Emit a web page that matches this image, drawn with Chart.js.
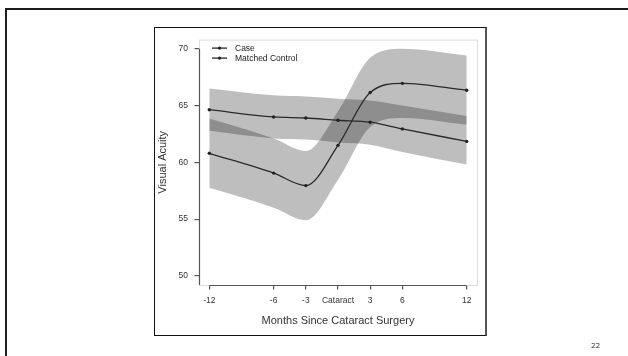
<!DOCTYPE html>
<html><head><meta charset="utf-8">
<script src="https://cdn.jsdelivr.net/npm/chart.js@4.4.1/dist/chart.umd.min.js"></script>
<style>
html,body{margin:0;padding:0;background:#fff;width:628px;height:356px;overflow:hidden;position:relative;font-family:'Liberation Sans',Arial,sans-serif}
#slide{position:absolute;left:5px;top:8px;width:700px;height:400px;border-top:2px solid #1e1e1e;border-left:2px solid #1e1e1e;}
#box{position:absolute;left:154px;top:27px;width:330px;height:307px;border:1px solid #111;border-right:2px solid #555;}
#c{position:absolute;left:155px;top:28px;}
#pg{position:absolute;left:591px;top:340px;font:8px 'Open Sans',sans-serif;color:#333;line-height:10px}
</style></head>
<body>
<div id="slide"></div><div id="box"></div>
<canvas id="c" width="330" height="307"></canvas>
<div id="pg">22</div>
<script>
const months = [-12, -6, -3, 0, 3, 6, 12];
const xTickLabels = ['-12', '-6', '-3', 'Cataract', '3', '6', '12'];
const yTicks = [50, 55, 60, 65, 70];
const caseVA = [60.79, 59.05, 57.95, 61.49, 66.14, 66.95, 66.34];
const controlVA = [64.63, 63.99, 63.90, 63.70, 63.53, 62.94, 61.84];
const caseUpper = [63.85, 62.1, 61.0, 64.5, 69.2, 70.0, 69.4];
const caseLower = [57.75, 56.0, 54.9, 58.45, 63.1, 63.9, 63.3];
const ctrlUpper = [66.5, 65.9, 65.8, 65.6, 65.45, 65.0, 64.08];
const ctrlLower = [62.77, 62.1, 62.0, 61.75, 61.55, 60.9, 59.8];
const seriesNames = ['Case', 'Matched Control'];

const pts = arr => months.map((m, i) => ({x: m, y: arr[i]}));
const FONT = "'Liberation Sans', Arial, sans-serif";
Chart.defaults.font.family = FONT;
Chart.defaults.color = '#333';

const lineStyle = {borderColor: '#2a2a2a', borderWidth: 1.3, pointRadius: 1.7, pointBackgroundColor: '#222', pointBorderWidth: 0, cubicInterpolationMode: 'monotone', fill: false};
const bandStyle = {borderWidth: 0, borderColor: 'rgba(0,0,0,0)', pointRadius: 0, cubicInterpolationMode: 'monotone', backgroundColor: 'rgba(0,0,0,0.255)'};

const decor = {
  id: 'decor',
  beforeDatasetsDraw(chart) {
    const {ctx, chartArea: a} = chart;
    ctx.save();
    ctx.strokeStyle = '#dcdcdc';
    ctx.lineWidth = 1;
    ctx.strokeRect(a.left + 0.5, a.top + 0.5, a.right - a.left, a.bottom - a.top);
    ctx.restore();
  },
  afterDraw(chart) {
    const {ctx, chartArea: a, scales: {x, y}} = chart;
    ctx.save();
    ctx.strokeStyle = '#555';
    ctx.lineWidth = 1.2;
    ctx.beginPath();
    ctx.moveTo(x.getPixelForValue(months[0]), a.bottom + 0.5);
    ctx.lineTo(x.getPixelForValue(months[months.length - 1]), a.bottom + 0.5);
    ctx.moveTo(a.left + 0.5, y.getPixelForValue(yTicks[yTicks.length - 1]));
    ctx.lineTo(a.left + 0.5, a.bottom);
    ctx.stroke();
    // legend
    const lx = a.left + 13, ly = a.top + 8.5;
    ctx.font = '8.5px ' + FONT;
    ctx.textBaseline = 'middle';
    seriesNames.forEach((n, i) => {
      const yy = ly + i * 10;
      ctx.strokeStyle = '#2a2a2a';
      ctx.lineWidth = 1.3;
      ctx.beginPath();
      ctx.moveTo(lx, yy); ctx.lineTo(lx + 15, yy); ctx.stroke();
      ctx.fillStyle = '#222';
      ctx.beginPath(); ctx.arc(lx + 7.5, yy, 1.7, 0, Math.PI * 2); ctx.fill();
      ctx.fillStyle = '#222';
      ctx.fillText(n, lx + 23, yy + 0.5);
    });
    ctx.restore();
  }
};

new Chart(document.getElementById('c'), {
  type: 'line',
  data: {
    datasets: [
      Object.assign({label: seriesNames[0], data: pts(caseVA)}, lineStyle),
      Object.assign({label: seriesNames[1], data: pts(controlVA)}, lineStyle),
      Object.assign({label: 'Case upper', data: pts(caseUpper), fill: '+1'}, bandStyle),
      Object.assign({label: 'Case lower', data: pts(caseLower), fill: false}, bandStyle),
      Object.assign({label: 'Control upper', data: pts(ctrlUpper), fill: '+1'}, bandStyle),
      Object.assign({label: 'Control lower', data: pts(ctrlLower), fill: false}, bandStyle)
    ]
  },
  options: {
    responsive: false,
    animation: false,
    devicePixelRatio: 1,
    layout: {padding: {left: 0, right: 8, top: 9, bottom: 0}},
    plugins: {legend: {display: false}, tooltip: {enabled: false}, filler: {propagate: false}},
    scales: {
      x: {
        type: 'linear', min: -12.96, max: 12.96,
        afterBuildTicks: s => { s.ticks = months.map(v => ({value: v})); },
        afterFit: s => { s.height = 50; },
        ticks: {callback: (v, i) => xTickLabels[i], font: {size: 8.5}, color: '#333', padding: 6, maxRotation: 0, autoSkip: false},
        grid: {drawOnChartArea: false, drawTicks: true, tickLength: 4.5, color: '#555', lineWidth: 1.2},
        border: {display: false},
        title: {display: true, text: 'Months Since Cataract Surgery', font: {size: 11}, color: '#333', padding: {top: 0, bottom: 7.4}}
      },
      y: {
        min: 49.2, max: 70.8,
        afterBuildTicks: s => { s.ticks = yTicks.map(v => ({value: v})); },
        afterFit: s => { s.width = 44; },
        ticks: {font: {size: 8.5}, color: '#333', padding: 6.5},
        grid: {drawOnChartArea: false, drawTicks: true, tickLength: 4.5, color: '#555', lineWidth: 1.2},
        border: {display: false},
        title: {display: true, text: 'Visual Acuity', font: {size: 11}, color: '#333', padding: {top: 1.4, bottom: 0}}
      }
    }
  },
  plugins: [decor]
});
</script>
</body></html>
